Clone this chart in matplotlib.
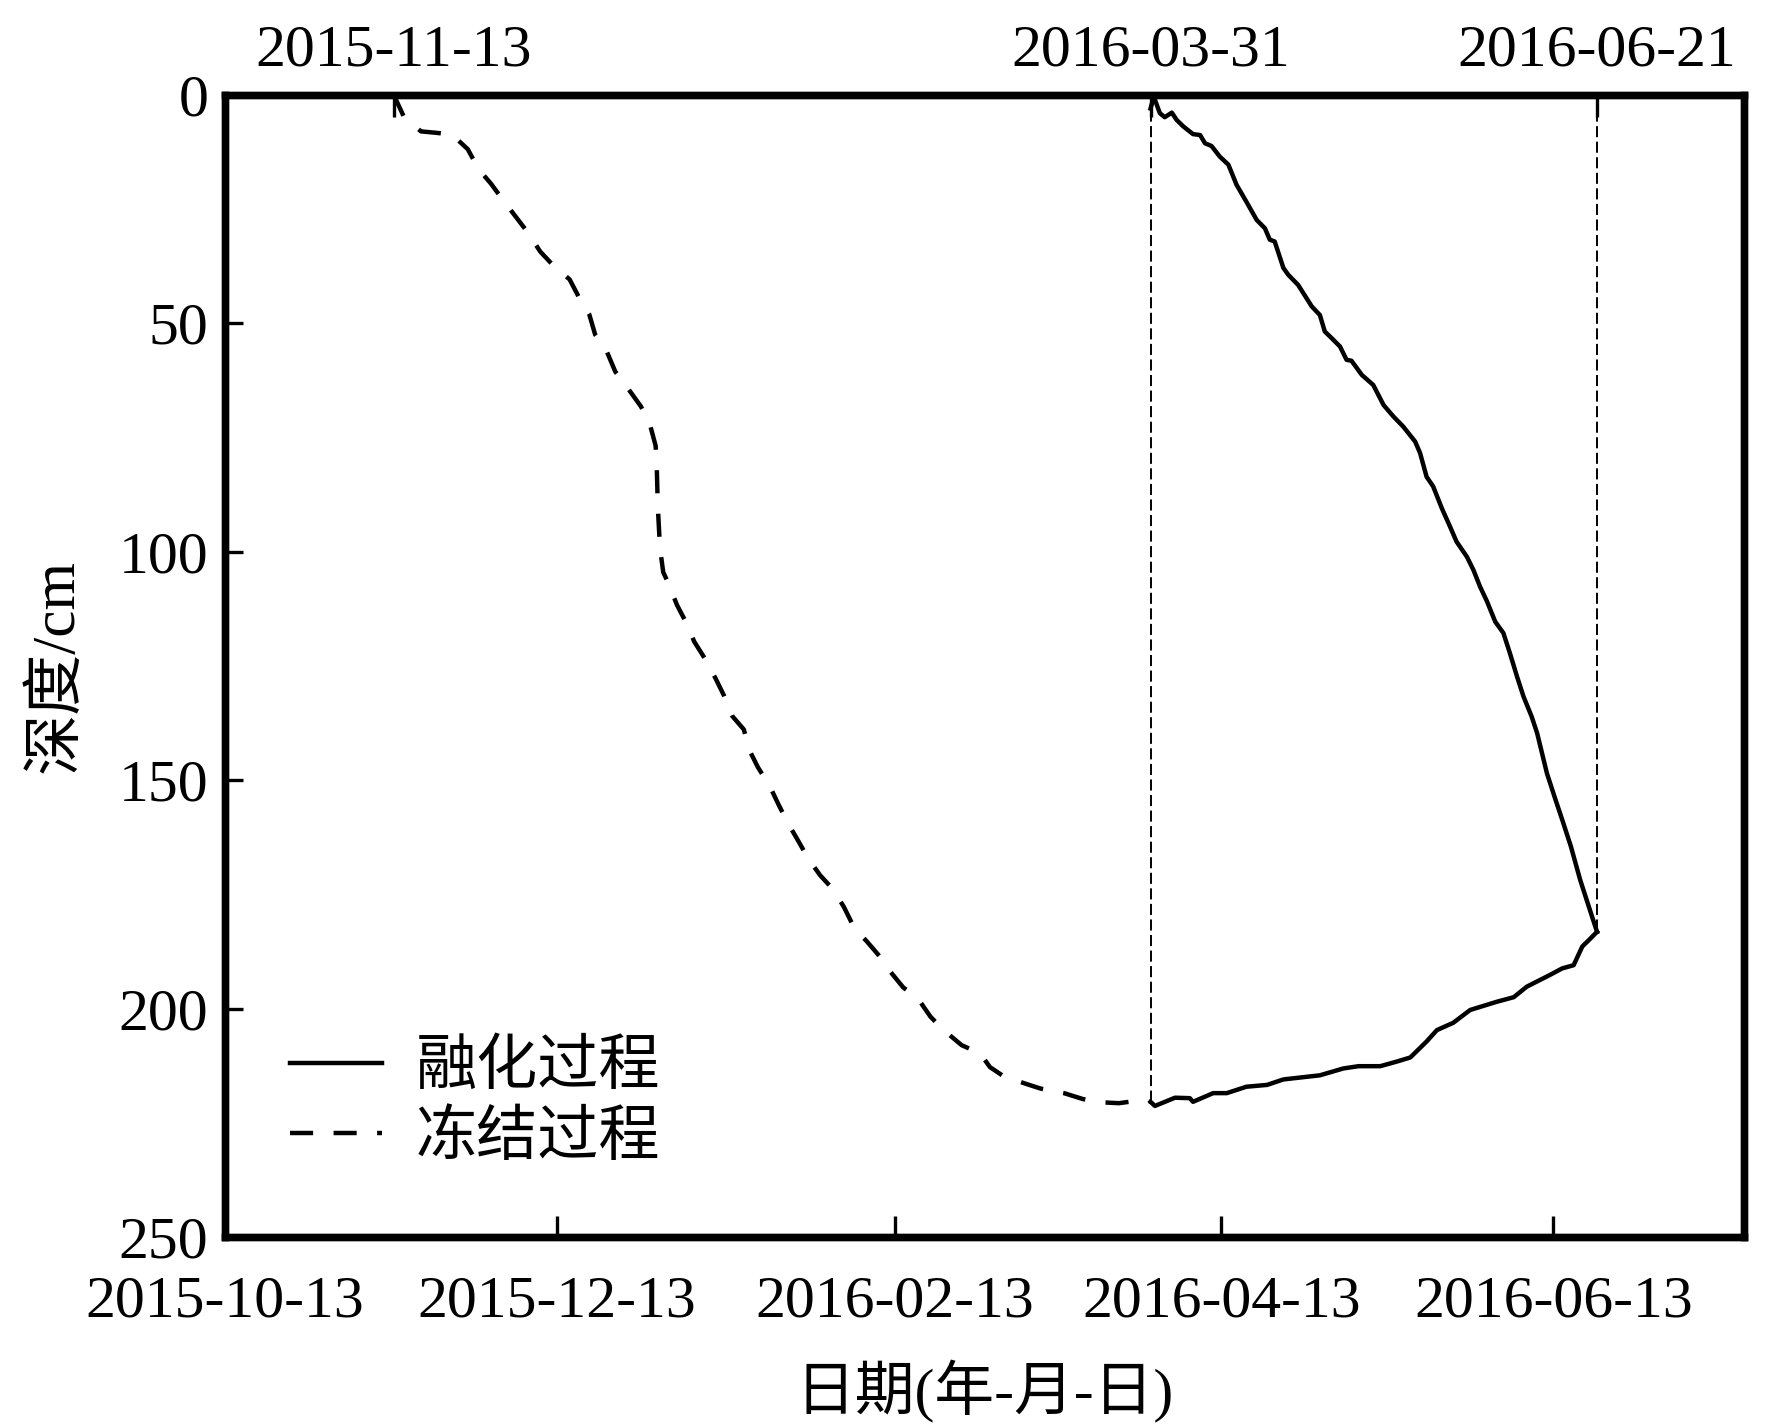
import matplotlib
matplotlib.use("Agg")
import matplotlib.pyplot as plt
import matplotlib.dates as mdates
from datetime import datetime, timedelta

plt.rcParams['font.family'] = ['Liberation Serif', 'Noto Sans CJK SC']

# days counted from 2015-10-13
start = datetime(2015, 10, 13)
x_end_day = 279

freeze_day = [31, 32.9, 36.0, 38.7, 40.2, 41.8, 44.6, 46.6, 48.9, 51.1, 53.3, 55.8, 57.9,
              60.5, 63.3, 65.1, 66.9, 68.0, 70.0, 71.7, 73.8, 76.4, 78.0, 79.1, 79.3,
              79.5, 79.9, 80.5, 81.6, 83.0, 84.7, 86.2, 88.1, 90.1, 91.7, 93.2, 95.3,
              96.3, 97.9, 100.1, 101.7, 103.4, 105.2, 107.1, 109.3, 111.7, 113.7, 115.6,
              117.9, 120.2, 122.2, 124.6, 127.1, 129.6, 132.0, 135.3, 138.7, 140.5,
              143.0, 147.2, 149.8, 154.1, 157.6, 160.8, 164.2, 167.3, 170.0]
freeze_depth = [0, 4.9, 8.0, 8.3, 8.5, 8.8, 11.9, 16.3, 19.5, 23.1, 26.5, 30.4, 34.3,
                37.6, 40.4, 44.5, 48.0, 52.5, 55.8, 60.6, 63.9, 68.2, 71.9, 76.8, 81.0,
                90.0, 99.2, 104.5, 107.3, 111.6, 115.5, 119.7, 123.3, 127.7, 131.6, 136.0,
                138.9, 143.4, 147.2, 151.4, 155.4, 159.4, 163.1, 167.1, 170.8, 173.9,
                177.8, 182.4, 185.3, 188.5, 191.9, 195.4, 197.5, 201.8, 204.7, 208.0,
                209.8, 212.8, 214.8, 216.5, 217.5, 218.5, 219.8, 220.5, 220.7, 220.2, 220.4]

melt_top_day = [170.0, 170.6, 171.7, 172.6, 173.9, 174.8, 176.0, 177.8, 179.1, 180.0,
                181.2, 182.7, 184.3, 185.8, 187.6, 189.5, 191.0, 191.9, 192.8, 194.4,
                195.3, 197.1, 199.6, 201.1, 202.0, 203.3, 204.8, 206.0, 206.9, 208.8,
                210.9, 212.8, 214.6, 216.4, 218.6, 219.5, 220.7, 221.9, 223.5, 225.0,
                226.2, 228.1, 229.3, 230.5, 231.8, 233.3, 234.8, 236.0, 237.3, 238.5,
                240.0, 241.0, 241.9, 242.8, 244.3, 245.7, 247.2, 248.9, 250.5, 252.0]
melt_top_depth = [3.0, 0.4, 4.0, 4.9, 3.9, 5.5, 6.9, 8.6, 8.8, 10.6, 11.2, 13.5, 15.3,
                  19.7, 23.4, 27.4, 29.2, 31.7, 32.1, 37.9, 39.4, 41.6, 46.3, 48.2, 51.8,
                  53.3, 55.1, 58.0, 58.2, 61.3, 63.5, 67.9, 70.4, 72.6, 75.9, 78.4, 83.6,
                  85.7, 90.5, 94.5, 97.8, 101.1, 104.0, 107.6, 110.9, 115.3, 117.8, 122.2,
                  127.3, 131.7, 136.1, 139.7, 144.1, 148.5, 154.0, 159.0, 164.5, 171.8,
                  177.7, 183.2]

melt_bottom_day = [170.0, 170.8, 174.5, 177.2, 177.8, 181.5, 184.0, 187.6, 191.4, 194.4,
                   201.1, 205.4, 208.2, 212.2, 215.2, 217.7, 220.7, 222.6, 225.6, 228.7,
                   233.6, 236.7, 239.1, 243.4, 245.6, 247.7, 249.3, 250.5, 252.0]
melt_bottom_depth = [220.4, 221.3, 219.5, 219.6, 220.4, 218.5, 218.5, 217.1, 216.7, 215.5,
                     214.6, 213.1, 212.6, 212.6, 211.6, 210.7, 207.2, 204.7, 203.1, 200.3,
                     198.5, 197.5, 195.2, 192.6, 191.2, 190.5, 186.4, 185.0, 183.2]

bottom_ticks = ['2015-10-13', '2015-12-13', '2016-02-13', '2016-04-13', '2016-06-13']
top_ticks = ['2015-11-13', '2016-03-31', '2016-06-21']
y_ticks = [0, 50, 100, 150, 200, 250]
labels = ['融化过程', '冻结过程']


def to_dates(days):
    return [start + timedelta(days=d) for d in days]


def parse(s):
    return datetime.strptime(s, '%Y-%m-%d')


fs = 43
fig = plt.figure(figsize=(17.67, 14.26), dpi=100)
ax = fig.add_axes([0.1273, 0.1325, 0.8597, 0.801])

ax.plot(to_dates(melt_top_day), melt_top_depth, color='black', lw=3.2, label=labels[0])
ax.plot(to_dates(melt_bottom_day), melt_bottom_depth, color='black', lw=3.2)
ax.plot(to_dates(freeze_day), freeze_depth, color='black', lw=3.2,
        linestyle=(0, (5.2, 4.6)), label=labels[1])

# thin dashed guide lines at thaw start and end
ax.plot(to_dates([melt_top_day[0]] * 2), [0, freeze_depth[-1]], color='black',
        lw=1.4, linestyle=(0, (5.7, 2.3)))
ax.plot(to_dates([melt_top_day[-1]] * 2), [0, melt_top_depth[-1]], color='black',
        lw=1.4, linestyle=(0, (5.7, 2.3)))

ax.set_xlim(start, start + timedelta(days=x_end_day))
ax.set_ylim(250, 0)
ax.set_yticks(y_ticks)
ax.set_xticks([parse(s) for s in bottom_ticks])
ax.xaxis.set_major_formatter(mdates.DateFormatter('%Y-%m-%d'))
ax.tick_params(axis='x', direction='in', length=15, width=2.4, labelsize=fs, pad=28)
ax.tick_params(axis='y', direction='in', length=13, width=2.4, labelsize=fs, pad=12)

ax.set_xlabel('日期(年-月-日)', fontsize=43, labelpad=22)
ax.set_ylabel('深度/cm', fontsize=44, labelpad=24)

ax2 = ax.twiny()
ax2.set_xlim(ax.get_xlim())
ax2.set_xticks(mdates.date2num([parse(s) for s in top_ticks]))
ax2.set_xticklabels(top_ticks)
ax2.tick_params(axis='x', direction='in', length=16, width=2.4, labelsize=fs, pad=12)

for a in (ax, ax2):
    for sp in a.spines.values():
        sp.set_linewidth(5.3)

leg = ax.legend(loc='upper left', bbox_to_anchor=(0.043, 0.172), frameon=False,
                fontsize=44, handlelength=1.5, handletextpad=0.55, labelspacing=0.22,
                borderpad=0, borderaxespad=0)

fig.savefig('out.png', dpi=100)
